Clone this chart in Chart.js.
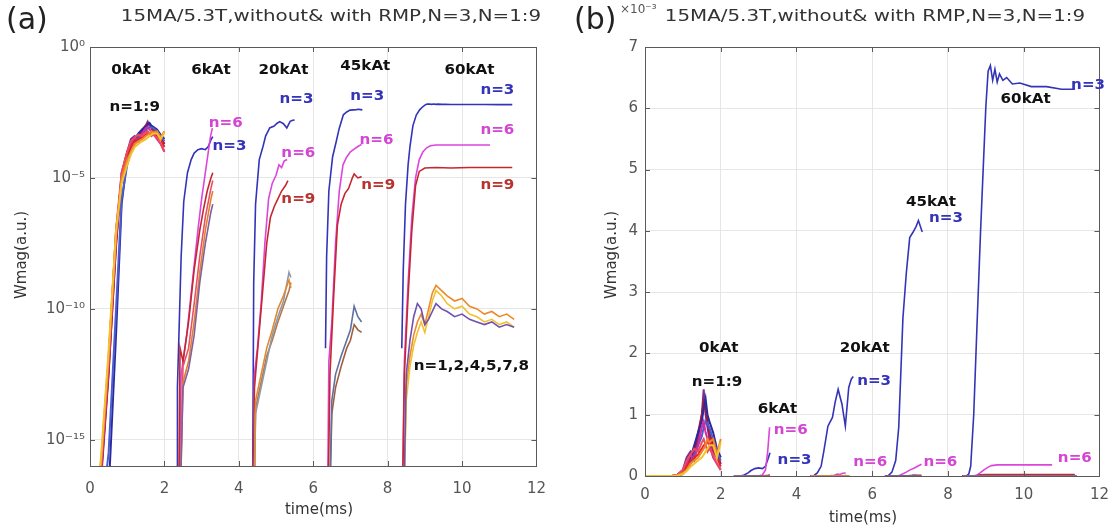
<!DOCTYPE html>
<html>
<head>
<meta charset="utf-8">
<script src="https://cdn.jsdelivr.net/npm/chart.js@4.4.1/dist/chart.umd.min.js"></script>
<style>
body{margin:0;background:#fff;width:1119px;height:528px;overflow:hidden;position:relative}
#boxA{position:absolute;left:0;top:0;width:560px;height:528px}
#boxB{position:absolute;left:560px;top:0;width:559px;height:528px}
</style>
</head>
<body>
<div id="boxA"><canvas id="chartA" width="560" height="528"></canvas></div>
<div id="boxB"><canvas id="chartB" width="559" height="528"></canvas></div>
<script>
// time in ms, values are log10(Wmag); panel (b) shows the same curves in units of 1e-3

// 0kAt, n=1..9
const t0 = [0, 0.3, 0.5, 0.7, 0.85, 1.0, 1.1, 1.2, 1.3, 1.4, 1.5, 1.55, 1.6, 1.65, 1.7, 1.8, 1.9, 2.0];
const w0n1 = [-20, -16.5, -12.5, -7.5, -4.8, -4.0, -3.52, -3.4, -3.52, -3.22, -3.0, -2.85, -3.0, -3.1, -3.22, -3.4, -3.52, -3.7];
const w0n2 = [-20, -19, -17, -11, -6, -4.3, -3.82, -3.52, -3.3, -3.15, -3.05, -2.96, -2.9, -3.0, -3.05, -3.15, -3.35, -3.52];
const w0n3 = [-20, -16, -12, -7, -5, -4.1, -3.82, -3.6, -3.52, -3.46, -3.35, -3.3, -3.3, -3.26, -3.22, -3.35, -3.52, -3.82];
const w0n4 = [-20, -15.8, -11.8, -7.2, -5, -4.3, -4.0, -3.7, -3.6, -3.52, -3.4, -3.35, -3.3, -3.22, -3.26, -3.22, -3.46, -3.22];
const w0n5 = [-20, -16.2, -12.2, -7.3, -4.9, -4.0, -3.7, -3.46, -3.6, -3.3, -3.1, -3.05, -3.15, -3.22, -3.3, -3.52, -3.7, -4.0];
const w0n6 = [-20, -15.6, -11.6, -7, -5.2, -4.5, -4.1, -3.82, -3.7, -3.6, -3.52, -3.46, -3.4, -3.35, -3.3, -3.3, -3.52, -3.26];
const w0n7 = [-20, -16.3, -12.4, -7.6, -5.0, -4.1, -3.7, -3.52, -3.4, -3.15, -3.0, -2.92, -2.96, -3.05, -3.15, -3.3, -3.46, -3.7];
const w0n8 = [-20, -18, -15.5, -10, -5.8, -4.5, -4.0, -3.7, -3.46, -3.3, -3.19, -3.1, -3.05, -3.07, -3.1, -3.22, -3.4, -3.6];
const w0n9 = [-20, -16, -12, -7, -4.8, -4.0, -3.6, -3.46, -3.35, -3.4, -3.26, -3.22, -3.3, -3.4, -3.35, -3.46, -3.7, -4.0];

// 6kAt
const t6n3 = [2.34, 2.35, 2.45, 2.52, 2.62, 2.72, 2.8, 2.9, 3.0, 3.1, 3.18, 3.25, 3.3];
const w6n3 = [-20, -13, -8, -5.9, -4.8, -4.3, -4.05, -3.92, -3.88, -3.92, -3.8, -3.55, -3.42];
const t6n6 = [2.37, 2.45, 2.6, 2.75, 2.9, 3.0, 3.1, 3.18, 3.24, 3.29];
const w6n6 = [-20, -12.5, -11, -9, -7, -5.8, -4.8, -4.0, -3.4, -3.1];
const t6n9 = [2.37, 2.42, 2.5, 2.65, 2.8, 2.95, 3.05, 3.15, 3.25, 3.3];
const w6n9 = [-20, -11.5, -12, -10.5, -8.5, -7, -6.2, -5.5, -5.0, -4.8];
const t6x = [2.38, 2.5, 2.65, 2.8, 2.95, 3.1, 3.25, 3.3];
const w6x1 = [-20, -12.8, -12, -10.5, -8.6, -7, -5.8, -5.5];
const w6x2 = [-20, -13, -12.3, -11, -9, -7.5, -6.3, -6];
const w6x3 = [-20, -12.2, -11.5, -9.8, -8, -6.5, -5.4, -5.1];

// 20kAt
const t20n3 = [4.36, 4.4, 4.45, 4.55, 4.65, 4.72, 4.83, 4.95, 5.02, 5.1, 5.2, 5.29, 5.38, 5.45, 5.5];
const w20n3 = [-20, -9, -6, -4.3, -3.8, -3.4, -3.09, -3.02, -2.92, -2.85, -2.93, -3.09, -2.84, -2.8, -2.79];
const t20n6 = [4.36, 4.42, 4.5, 4.6, 4.7, 4.8, 4.9, 5.0, 5.08, 5.15, 5.22, 5.3];
const w20n6 = [-20, -12.5, -11.5, -9.8, -7.5, -5.8, -5.2, -4.9, -4.5, -4.6, -4.35, -4.3];
const t20n9 = [4.36, 4.42, 4.6, 4.75, 4.85, 4.95, 5.05, 5.15, 5.25, 5.32];
const w20n9 = [-20, -13, -10, -7.5, -6.5, -6.1, -5.8, -5.5, -5.3, -5.1];
const t20x = [4.38, 4.45, 4.6, 4.75, 4.9, 5.05, 5.2, 5.35, 5.4];
const w20x1 = [-20, -13.5, -12.5, -11.5, -10.8, -10, -9.5, -8.9, -9.2];
const w20x2 = [-20, -14, -13, -12, -11, -10.3, -9.7, -8.6, -8.8];
const w20x3 = [-20, -13.8, -12.8, -11.8, -11.2, -10.5, -9.9, -9.3, -9.0];

// 45kAt
const t45n3 = [6.33, 6.36, 6.42, 6.52, 6.62, 6.7, 6.81, 6.9, 6.99, 7.08, 7.16, 7.22, 7.27, 7.32];
const w45n3 = [-11.5, -8, -5.5, -4.2, -3.6, -3.1, -2.59, -2.48, -2.41, -2.4, -2.39, -2.38, -2.39, -2.4];
const t45n6 = [6.37, 6.42, 6.5, 6.6, 6.7, 6.8, 6.9, 7.0, 7.1, 7.2, 7.3];
const w45n6 = [-20, -12, -10.5, -7.5, -5.5, -4.5, -4.2, -4.0, -3.9, -3.8, -3.72];
const t45n9 = [6.37, 6.45, 6.55, 6.65, 6.75, 6.85, 6.95, 7.05, 7.1, 7.2, 7.3];
const w45n9 = [-20, -12.5, -9.5, -6.8, -6.0, -5.6, -5.4, -5.0, -4.85, -5.0, -4.95];
const t45x = [6.4, 6.5, 6.6, 6.75, 6.9, 7.0, 7.1, 7.2, 7.3];
const w45x1 = [-20, -13.5, -12.5, -11.8, -11.2, -10.8, -9.9, -10.3, -10.5];
const w45x2 = [-20, -14, -13, -12.2, -11.5, -11.2, -10.6, -10.8, -10.9];

// 60kAt
const t60n3 = [8.38, 8.42, 8.48, 8.55, 8.6, 8.68, 8.77, 8.86, 8.93, 9.0, 9.06, 9.12, 9.18, 9.24, 9.3, 9.36, 9.45, 9.55, 9.7, 9.9, 10.2, 10.6, 11.0, 11.35];
const w60n3 = [-11.5, -8.5, -6, -4.5, -3.8, -3.0, -2.6, -2.4, -2.3, -2.22, -2.18, -2.174, -2.19, -2.178, -2.192, -2.183, -2.19, -2.187, -2.194, -2.193, -2.197, -2.197, -2.2, -2.2];
const t60n6 = [8.37, 8.45, 8.55, 8.65, 8.75, 8.85, 8.95, 9.05, 9.15, 9.3, 9.6, 10.0, 10.5, 10.75];
const w60n6 = [-20, -12, -9, -6.5, -5, -4.3, -4.0, -3.85, -3.77, -3.74, -3.74, -3.74, -3.74, -3.74];
const t60n9 = [8.37, 8.45, 8.55, 8.65, 8.75, 8.85, 9.0, 9.3, 9.7, 10.2, 10.8, 11.35];
const w60n9 = [-20, -12.5, -9.5, -7, -5.3, -4.75, -4.62, -4.6, -4.62, -4.6, -4.6, -4.6];
const t60x = [8.4, 8.5, 8.6, 8.7, 8.8, 8.9, 9.0, 9.1, 9.2, 9.3, 9.45, 9.6, 9.8, 10.0, 10.2, 10.4, 10.6, 10.8, 11.0, 11.2, 11.4];
const w60x1 = [-20, -13, -11.8, -11, -10.5, -10.2, -10.6, -10.0, -9.4, -9.1, -9.3, -9.5, -9.7, -9.6, -9.9, -10.0, -10.2, -10.1, -10.3, -10.2, -10.4];
const w60x2 = [-20, -13.5, -12.2, -11.4, -10.9, -10.5, -10.9, -10.3, -9.7, -9.3, -9.5, -9.8, -10.0, -9.9, -10.2, -10.3, -10.5, -10.4, -10.6, -10.5, -10.7];
const w60x3 = [-20, -12.5, -11.2, -10.3, -9.8, -10.0, -10.6, -10.4, -10.1, -9.8, -10.0, -10.1, -10.3, -10.2, -10.4, -10.5, -10.6, -10.5, -10.7, -10.6, -10.7];

// labels: text, time, log10 value (a) or value x1e-3 (b)
const notesA = [
    ['0kAt', 1.1, -0.9, '#111'], ['6kAt', 3.25, -0.9, '#111'], ['20kAt', 5.2, -0.9, '#111'],
    ['45kAt', 7.4, -0.75, '#111'], ['60kAt', 10.2, -0.9, '#111'], ['n=1:9', 1.2, -2.3, '#111'],
    ['n=6', 3.65, -2.9, '#d445d4'], ['n=3', 3.75, -3.8, '#3434b8'],
    ['n=3', 5.55, -2.0, '#3434b8'], ['n=6', 5.6, -4.05, '#d445d4'], ['n=9', 5.6, -5.8, '#b8322e'],
    ['n=3', 7.45, -1.9, '#3434b8'], ['n=6', 7.7, -3.55, '#d445d4'], ['n=9', 7.75, -5.3, '#b8322e'],
    ['n=3', 10.95, -1.65, '#3434b8'], ['n=6', 10.95, -3.2, '#d445d4'], ['n=9', 10.95, -5.3, '#b8322e'],
    ['n=1,2,4,5,7,8', 10.25, -12.2, '#111']
];
const notesB = [
    ['0kAt', 1.95, 2.08, '#111'], ['n=1:9', 1.9, 1.52, '#111'],
    ['6kAt', 3.5, 1.08, '#111'], ['n=6', 3.85, 0.74, '#d445d4'], ['n=3', 3.95, 0.25, '#3434b8'],
    ['20kAt', 5.8, 2.08, '#111'], ['n=3', 6.05, 1.55, '#3434b8'], ['n=6', 5.95, 0.23, '#d445d4'],
    ['45kAt', 7.55, 4.46, '#111'], ['n=3', 7.95, 4.2, '#3434b8'], ['n=6', 7.8, 0.23, '#d445d4'],
    ['60kAt', 10.05, 6.15, '#111'], ['n=3', 11.7, 6.38, '#3434b8'], ['n=6', 11.35, 0.28, '#d445d4']
];

const blue = '#3434b8', mag = '#dc46dc', red = '#c4282e';

const curves = [
    [t0, w0n6, '#f2c12e', 2], [t0, w0n4, '#f08428', 2], [t0, w0n9, '#ee4a5e', 2],
    [t0, w0n3, '#e42424', 2], [t0, w0n5, '#d02aa6', 2], [t0, w0n8, '#4a5ed0', 2],
    [t0, w0n2, '#2a2a9c', 2], [t0, w0n7, '#a8183a', 2], [t0, w0n1, '#7e2f8e', 2],
    [t6x, w6x2, '#8060a0', 1.6], [t6x, w6x1, '#e08030', 1.6], [t6x, w6x3, '#e8506a', 1.6],
    [t6n9, w6n9, red, 1.6], [t6n6, w6n6, mag, 1.6], [t6n3, w6n3, blue, 1.6],
    [t20x, w20x1, '#e08a38', 1.6], [t20x, w20x2, '#9098a8', 1.6], [t20x, w20x3, '#b07850', 1.6],
    [t20n9, w20n9, red, 1.6], [t20n6, w20n6, mag, 1.6], [t20n3, w20n3, blue, 1.6],
    [t45x, w45x1, '#6070a0', 1.6], [t45x, w45x2, '#a06040', 1.6],
    [t45n9, w45n9, red, 1.6], [t45n6, w45n6, mag, 1.6], [t45n3, w45n3, blue, 1.6],
    [t60x, w60x3, '#7050b0', 1.6], [t60x, w60x2, '#f2c12e', 1.6], [t60x, w60x1, '#ec8a2a', 1.6],
    [t60n9, w60n9, red, 1.6], [t60n6, w60n6, mag, 1.6], [t60n3, w60n3, blue, 1.6]
];

const supMap = {'-': '\u207B', '0': '\u2070', '1': '\u00B9', '2': '\u00B2', '3': '\u00B3', '4': '\u2074', '5': '\u2075', '6': '\u2076', '7': '\u2077', '8': '\u2078', '9': '\u2079'};

function sets(isLog){
    return curves.map(([t, w, c, lw]) => ({
        data: t.map((x, i) => ({x: x, y: Math.pow(10, isLog ? w[i] : w[i] + 3)})),
        borderColor: c,
        borderWidth: lw,
        pointRadius: 0,
        tension: 0,
        fill: false
    }));
}

function say(ctx, str, x, y, font, color, align, stretch, rot){
    ctx.save();
    ctx.translate(x, y);
    if(rot) ctx.rotate(rot);
    ctx.scale(stretch || 1, 1);
    ctx.font = font;
    ctx.fillStyle = color;
    ctx.textAlign = align || 'center';
    ctx.textBaseline = 'middle';
    ctx.fillText(str, 0, 0);
    ctx.restore();
}

function extras(cfg){
    return {
        id: 'extras' + cfg.tag,
        afterDraw(chart){
            const ctx = chart.ctx, a = chart.chartArea;
            const sx = chart.scales.x, sy = chart.scales.y;
            ctx.save();
            ctx.strokeStyle = '#5a5a5a';
            ctx.lineWidth = 1;
            ctx.beginPath();
            sx.ticks.forEach(tk => {
                const px = Math.round(sx.getPixelForValue(tk.value)) + 0.5;
                ctx.moveTo(px, a.bottom); ctx.lineTo(px, a.bottom - 5);
                ctx.moveTo(px, a.top); ctx.lineTo(px, a.top + 5);
            });
            sy.ticks.forEach(tk => {
                const py = Math.round(sy.getPixelForValue(tk.value)) + 0.5;
                ctx.moveTo(a.left, py); ctx.lineTo(a.left + 5, py);
                ctx.moveTo(a.right, py); ctx.lineTo(a.right - 5, py);
            });
            ctx.stroke();
            ctx.strokeRect(Math.round(a.left) + 0.5, Math.round(a.top) + 0.5,
                Math.round(a.right - a.left), Math.round(a.bottom - a.top));

            cfg.notes.forEach(([txt, x, y, col]) => {
                const yv = cfg.isLog ? Math.pow(10, y) : y;
                say(ctx, txt, sx.getPixelForValue(x), sy.getPixelForValue(yv),
                    'bold 14px "DejaVu Sans"', col, 'center', 1.08);
            });

            say(ctx, cfg.tag, cfg.tagX, 21, '30px "DejaVu Sans"', '#222', 'left');
            say(ctx, '15MA/5.3T,without& with RMP,N=3,N=1:9', cfg.titleX, 17,
                '16px "DejaVu Sans"', '#333', 'center', 1.24);
            say(ctx, 'Wmag(a.u.)', cfg.ylabX, 255, '15px "DejaVu Sans"', '#333', 'center', 1, -Math.PI / 2);
            say(ctx, 'time(ms)', cfg.titleX - 12, cfg.xlabY, '15px "DejaVu Sans"', '#333', 'center');
            if(cfg.expo) say(ctx, '\u00D710\u207B\u00B3', 60, 10, '12px "DejaVu Sans"', '#555', 'left');
            ctx.restore();
        }
    };
}

function makeChart(id, isLog, padRight, yWidth, xHeight, xPad, cfg){
    const yScale = isLog ? {
        type: 'logarithmic',
        min: 1e-16,
        max: 1,
        afterBuildTicks: s => { s.ticks = [1e-15, 1e-10, 1e-5, 1].map(v => ({value: v})); },
        ticks: {
            color: '#555',
            font: {family: 'DejaVu Sans', size: 15},
            padding: 5,
            callback: v => '10' + String(Math.round(Math.log10(v))).split('').map(ch => supMap[ch]).join('')
        }
    } : {
        type: 'linear',
        min: 0,
        max: 7,
        ticks: {stepSize: 1, color: '#555', font: {family: 'DejaVu Sans', size: 15}, padding: 7}
    };
    yScale.grid = {color: '#e6e6e6', drawTicks: false};
    yScale.border = {display: false};
    yScale.afterFit = s => { s.width = yWidth; };

    return new Chart(document.getElementById(id), {
        type: 'line',
        data: {datasets: sets(isLog)},
        options: {
            responsive: false,
            animation: false,
            events: [],
            layout: {padding: {left: 0, right: padRight, top: 47, bottom: 0}},
            plugins: {legend: {display: false}, tooltip: {enabled: false}},
            scales: {
                x: {
                    type: 'linear',
                    min: 0,
                    max: 12,
                    ticks: {stepSize: 2, color: '#555', font: {family: 'DejaVu Sans', size: 15}, padding: xPad},
                    grid: {color: '#e6e6e6', drawTicks: false},
                    border: {display: false},
                    afterFit: s => { s.height = xHeight; }
                },
                y: yScale
            }
        },
        plugins: [extras(cfg)]
    });
}

makeChart('chartA', true, 13, 90, 62, 14,
    {tag: '(a)', tagX: 6, titleX: 331, ylabX: 22, xlabY: 510, isLog: true, notes: notesA});
makeChart('chartB', false, 17, 85, 52, 10,
    {tag: '(b)', tagX: 14, titleX: 315, ylabX: 52, xlabY: 518, isLog: false, notes: notesB, expo: true});
</script>
</body>
</html>
